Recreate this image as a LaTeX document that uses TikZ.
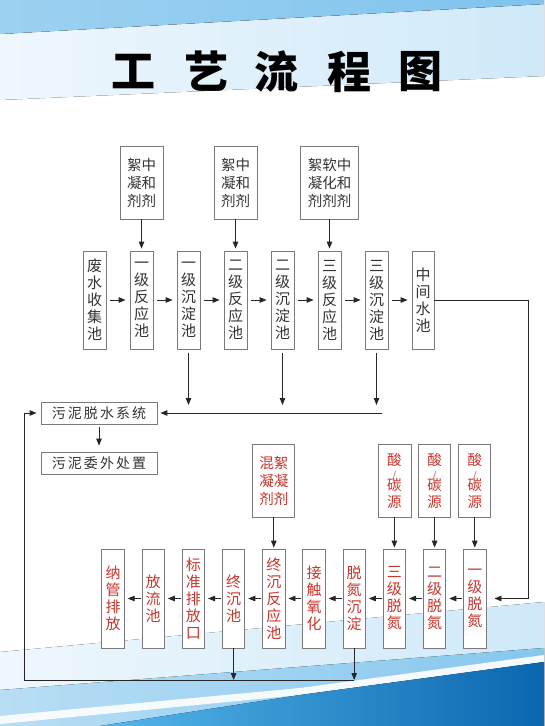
\documentclass[tikz,border=0pt]{standalone}
\usepackage{fontspec}
\setmainfont{Noto Sans CJK SC}
\usetikzlibrary{arrows.meta}
\definecolor{tbA}{HTML}{9DD1F1}
\definecolor{tbB}{HTML}{7FC3EE}
\definecolor{lbA}{HTML}{EEF7FD}
\definecolor{lbB}{HTML}{CFE9F9}
\definecolor{mbA}{HTML}{B8DEF4}
\definecolor{mbB}{HTML}{86C7EE}
\definecolor{dbA}{HTML}{55B6EA}
\definecolor{dbB}{HTML}{0A66AF}
\definecolor{boxline}{HTML}{7A7A7A}
\definecolor{txt}{HTML}{333333}
\definecolor{redtxt}{HTML}{C8352B}
\definecolor{lncol}{HTML}{262626}
\tikzset{
  vbox/.style={draw=boxline, line width=0.8pt, fill=white, inner sep=0pt, align=center,
    minimum width=23pt, minimum height=98pt, text=txt, font=\fontsize{15}{17}\selectfont},
  rbox/.style={vbox, minimum width=22.5pt, minimum height=99pt, text=redtxt},
  agent/.style={draw=boxline, line width=0.8pt, fill=white, inner sep=0pt, align=center,
    minimum height=73pt, text=txt, font=\fontsize{14.5}{18}\selectfont},
  ragent/.style={agent, text=redtxt},
  hbox/.style={draw=boxline, line width=0.8pt, fill=white, inner sep=0pt,
    minimum width=116pt, minimum height=22pt, text=txt,
    font=\fontsize{14}{14}\selectfont\addfontfeatures{LetterSpace=15}},
  arr/.style={draw=lncol, line width=0.9pt, -{Triangle[length=7pt,width=5.5pt]}},
  ttl/.style={font=\fontsize{44}{44}\selectfont\bfseries, text=black, inner sep=0pt}
}
\newcommand{\suantan}{酸\\[-5pt]{\fontsize{9}{9}\selectfont /}\\[-6pt]碳\\[-1pt]源}
\begin{document}
\begin{tikzpicture}[x=1pt,y=-1pt]
\useasboundingbox (0,0) rectangle (544,726);
\fill[white] (0,0) rectangle (544,726);
% top background
\fill[left color=lbA, right color=lbB] (0,34) -- (544,4) -- (544,76) -- (0,100) -- cycle;
\fill[left color=tbA, right color=tbB] (0,0) -- (544,0) -- (544,4) -- (0,34) -- cycle;
% bottom background
\fill[left color=lbA, right color=lbB] (0,652) -- (544,602) -- (544,726) -- (0,726) -- cycle;
\fill[left color=mbA, right color=mbB] (0,690) -- (544,648) -- (544,726) -- (0,726) -- cycle;
\fill[white, opacity=.9] (0,716) -- (300,688) -- (544,655) -- (544,662) -- (300,695) -- (0,724) -- cycle;
\fill[left color=dbA, right color=dbB] (100,726) -- (300,695) -- (544,662) -- (544,726) -- cycle;

% title
\node[ttl] (t1) at (133,71.5) {工};
\node[ttl] (t2) at (206,71.5) {艺};
\node[ttl] (t3) at (276,71.5) {流};
\node[ttl] (t4) at (349,71.5) {程};
\node[ttl] (t5) at (420,71.5) {图};

% top row
\node[vbox] (b1) at (94.5,300) {废\\水\\收\\集\\池};
\node[vbox] (b2) at (141.5,300) {一\\级\\反\\应\\池};
\node[vbox] (b3) at (188.5,300) {一\\级\\沉\\淀\\池};
\node[vbox] (b4) at (235.5,300) {二\\级\\反\\应\\池};
\node[vbox] (b5) at (282.5,300) {二\\级\\沉\\淀\\池};
\node[vbox] (b6) at (329.5,300) {三\\级\\反\\应\\池};
\node[vbox] (b7) at (376.5,300) {三\\级\\沉\\淀\\池};
\node[vbox, minimum width=22pt] (b8) at (423,300) {中\\间\\水\\池};

\node[agent, minimum width=43pt] (r1) at (141.5,182.5) {絮中\\凝和\\剂剂};
\node[agent, minimum width=43pt] (r2) at (235.5,182.5) {絮中\\凝和\\剂剂};
\node[agent, minimum width=58pt] (r3) at (329.5,182.5) {絮软中\\凝化和\\剂剂剂};

\node[hbox] (s1) at (99,413) {污泥脱水系统};
\node[hbox] (s2) at (99,463) {污泥委外处置};

% bottom row
\node[rbox] (c1) at (113,598.5) {纳\\管\\排\\放};
\node[rbox] (c2) at (153.2,598.5) {放\\流\\池};
\node[rbox] (c3) at (193.4,598.5) {标\\准\\排\\放\\口};
\node[rbox] (c4) at (233.6,598.5) {终\\沉\\池};
\node[rbox] (c5) at (273.8,598.5) {终\\沉\\反\\应\\池};
\node[rbox] (c6) at (314,598.5) {接\\触\\氧\\化};
\node[rbox] (c7) at (354.2,598.5) {脱\\氮\\沉\\淀};
\node[rbox] (c8) at (394.4,598.5) {三\\级\\脱\\氮};
\node[rbox] (c9) at (434.6,598.5) {二\\级\\脱\\氮};
\node[rbox] (c10) at (474.8,598.5) {一\\级\\脱\\氮};

\node[ragent, minimum width=42pt] (m1) at (273.8,480.5) {混絮\\凝凝\\剂剂};
\node[ragent, minimum width=33pt] (a1) at (394.4,480.5) {\suantan};
\node[ragent, minimum width=32pt] (a2) at (434.6,480.5) {\suantan};
\node[ragent, minimum width=32pt] (a3) at (474.8,480.5) {\suantan};

% connectors top row
\foreach \a/\b in {b1/b2,b2/b3,b3/b4,b4/b5,b5/b6,b6/b7,b7/b8}
  \draw[arr, shorten <=4pt, shorten >=4pt] (\a) -- (\b);
\foreach \a/\b in {r1/b2,r2/b4,r3/b6}
  \draw[arr, shorten >=2pt] (\a) -- (\b);

\coordinate (j) at (382,413);
\foreach \a in {b3,b5,b7}
  \draw[arr, shorten <=4pt, shorten >=8pt] (\a) -- (\a |- j);
\draw[arr, shorten >=3pt] (j) -- (s1);
\draw[arr, shorten <=3pt, shorten >=6pt] (s1) -- (s2);

\coordinate (q1) at (528,300);
\coordinate (q2) at (528,598.5);
\draw[arr, shorten >=8pt] (b8) -- (q1) -- (q2) -- (c10);

% bottom row connectors
\foreach \a/\b in {c10/c9,c9/c8,c8/c7,c7/c6,c6/c5,c5/c4,c4/c3,c3/c2,c2/c1}
  \draw[arr, shorten <=1pt, shorten >=3pt] (\a) -- (\b);
\foreach \a/\b in {m1/c5,a1/c8,a2/c9,a3/c10}
  \draw[arr, shorten >=1pt] (\a) -- (\b);

\coordinate (bl) at (24,680);
\coordinate (tl) at (24,413);
\draw[arr] (c4) -- (c4 |- bl);
\draw[arr] (c7) -- (c7 |- bl);
\draw[arr, shorten >=4pt] (c7 |- bl) -- (bl) -- (tl) -- (s1);
\end{tikzpicture}
\end{document}
